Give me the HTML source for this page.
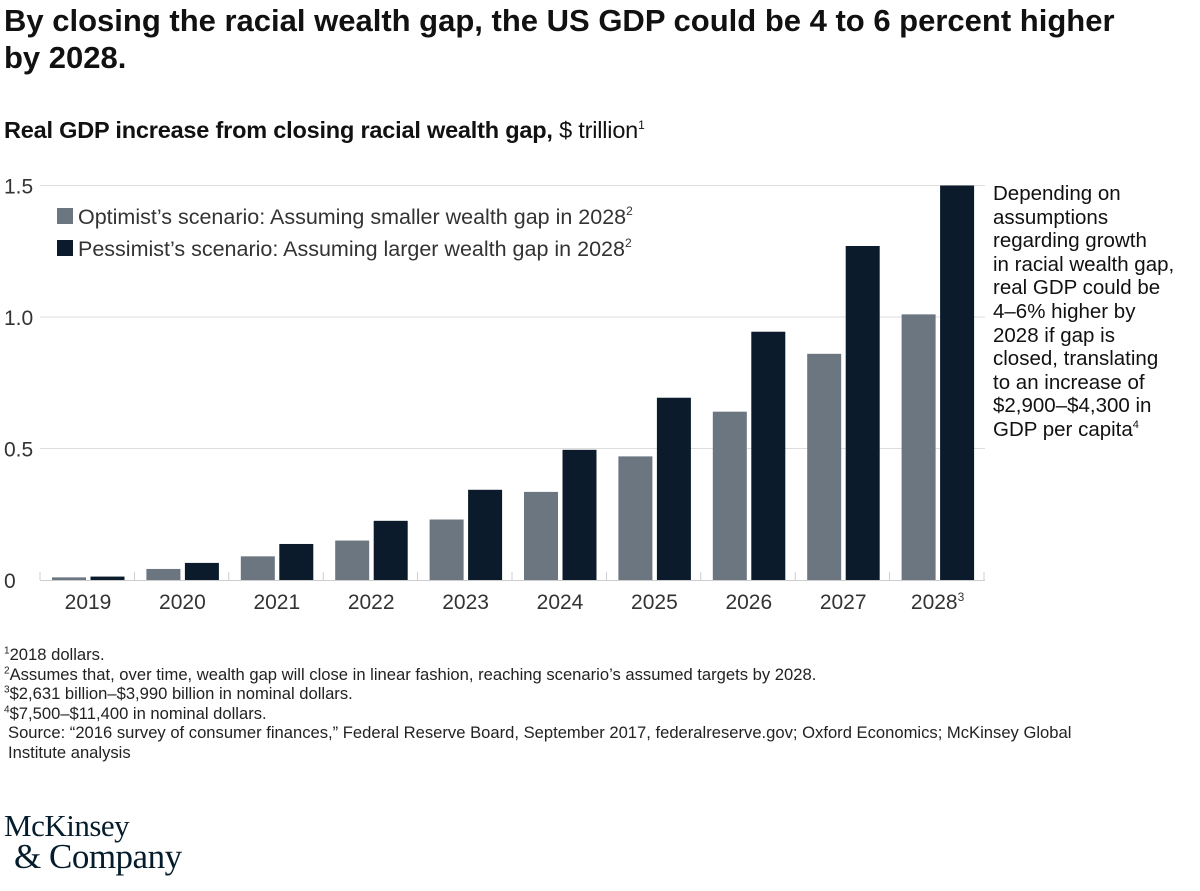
<!DOCTYPE html>
<html><head><meta charset="utf-8">
<style>
body{margin:0;background:#fff;width:1200px;height:891px;overflow:hidden;font-family:"Liberation Sans",sans-serif;color:#111}
.abs{position:absolute}
sup{line-height:0}
</style></head>
<body>
<div class="abs" style="left:4px;top:2px;font-size:31px;font-weight:bold;line-height:37px;width:1150px">By closing the racial wealth gap, the US GDP could be 4 to 6 percent higher by 2028.</div>
<div class="abs" style="left:4px;top:116px;font-size:23.5px;line-height:28px;letter-spacing:-0.2px"><b>Real GDP increase from closing racial wealth gap,</b> $ trillion<sup style="font-size:12px">1</sup></div>
<svg class="abs" style="left:0;top:0" width="1200" height="891">
<g id="grid"></g><g id="bars"></g><g id="labels"></g>
<g font-size="21.5" fill="#333">
<rect x="57" y="208" width="16" height="16" fill="#6b7680"/>
<text x="78" y="224">Optimist’s scenario: Assuming smaller wealth gap in 2028<tspan font-size="12" dy="-9">2</tspan></text>
<rect x="57" y="240" width="16" height="16" fill="#0b1b2b"/>
<text x="78" y="256">Pessimist’s scenario: Assuming larger wealth gap in 2028<tspan font-size="12" dy="-9">2</tspan></text>
</g>
</svg>
<div class="abs" style="left:993px;top:182px;width:205px;font-size:20.5px;line-height:23.6px;color:#111;white-space:nowrap">Depending on<br>assumptions<br>regarding growth<br>in racial wealth gap,<br>real GDP could be<br>4–6% higher by<br>2028 if gap is<br>closed, translating<br>to an increase of<br>$2,900–$4,300 in<br>GDP per capita<sup style="font-size:11px">4</sup></div>
<div class="abs" style="left:4px;top:645px;font-size:16.6px;line-height:19.5px;color:#222;white-space:nowrap">
<div><sup style="font-size:10px">1</sup>2018 dollars.</div>
<div><sup style="font-size:10px">2</sup>Assumes that, over time, wealth gap will close in linear fashion, reaching scenario’s assumed targets by 2028.</div>
<div><sup style="font-size:10px">3</sup>$2,631 billion–$3,990 billion in nominal dollars.</div>
<div><sup style="font-size:10px">4</sup>$7,500–$11,400 in nominal dollars.</div>
<div style="padding-left:4px">Source: “2016 survey of consumer finances,” Federal Reserve Board, September 2017, federalreserve.gov; Oxford Economics; McKinsey Global<br>Institute analysis</div>
</div>
<div class="abs" style="left:4px;top:810px;font-family:'Liberation Serif',serif;color:#051c2c;letter-spacing:-0.5px">
<div style="font-size:31px;line-height:31px">McKinsey</div>
<div style="font-size:35px;line-height:31px;margin-left:10px">&amp; Company</div>
</div>
<script>
const years=["2019","2020","2021","2022","2023","2024","2025","2026","2027","2028"];
const optimist=[0.01,0.042,0.09,0.15,0.23,0.335,0.47,0.64,0.86,1.01];
const pessimist=[0.013,0.065,0.137,0.225,0.343,0.495,0.693,0.944,1.27,1.5];
const yTicks=[0,0.5,1.0,1.5];
const yTickLabels=["0","0.5","1.0","1.5"];
const NS="http://www.w3.org/2000/svg";
function y(v){return 580-v*263;}
function xg(i){return 52+i*94.4;}
function mk(t,a,p){const e=document.createElementNS(NS,t);for(const k in a)e.setAttribute(k,a[k]);p.appendChild(e);return e;}
const grid=document.getElementById('grid'),bars=document.getElementById('bars'),labels=document.getElementById('labels');
yTicks.forEach((v,i)=>{
 if(v>0){const l=mk('line',{x1:40,x2:985,y1:y(v),y2:y(v),stroke:'#ddd','stroke-width':1},grid);
 
 }
 const t=mk('text',{x:4,y:y(v)+8,'font-size':21,fill:'#333'},labels);
 t.textContent=yTickLabels[i];
 
 
});
const ax=mk('line',{x1:40,x2:985,y1:580.5,y2:580.5,stroke:'#ccc','stroke-width':1},grid);


for(let i=0;i<=years.length;i++){const tk=mk('line',{x1:xg(i)-12,x2:xg(i)-12,y1:572,y2:580,stroke:'#ccc'},grid);
 
 }
years.forEach((yr,i)=>{
 const x=xg(i);
 const a=mk('rect',{x:x,y:y(optimist[i]),width:34,height:580-y(optimist[i]),fill:'#6b7680'},bars);
 
 
 const b=mk('rect',{x:x+38.5,y:y(pessimist[i]),width:34,height:580-y(pessimist[i]),fill:'#0b1b2b'},bars);
 
 
 const t=mk('text',{x:x+36,y:609,'font-size':21,fill:'#333','text-anchor':'middle'},labels);
 t.textContent=yr;
 if(i===years.length-1){const s=mk('tspan',{'font-size':12,dy:-8},t);s.textContent='3';}
 
 
});
</script>
</body></html>
